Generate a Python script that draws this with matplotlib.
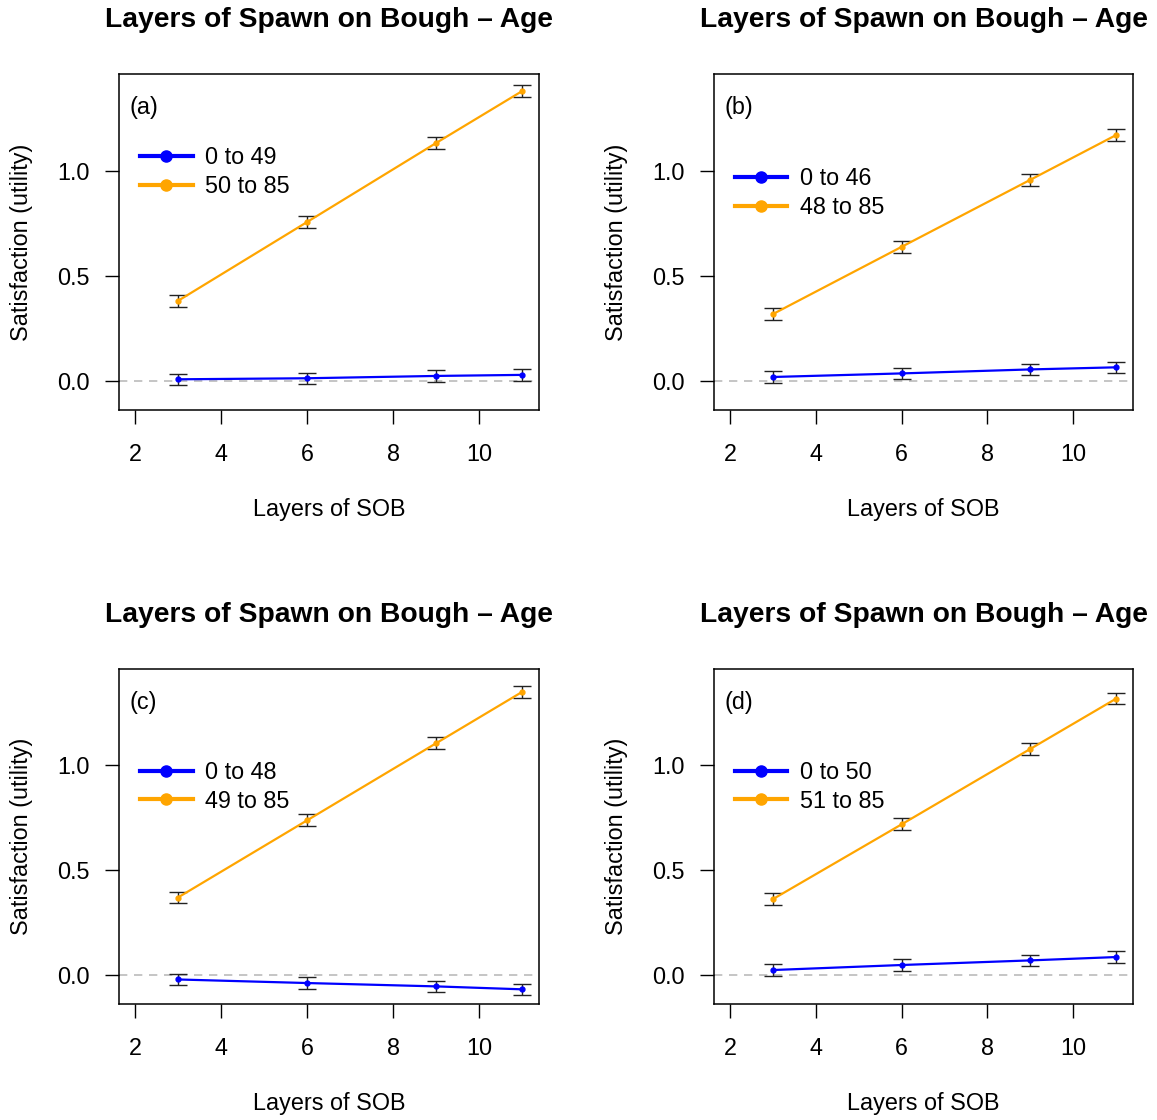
import matplotlib
matplotlib.use("Agg")
import matplotlib.pyplot as plt
from matplotlib.lines import Line2D

plt.rcParams['font.family'] = ['Liberation Sans', 'DejaVu Sans']

layers = [3, 6, 9, 11]
panel_tags = ["(a)", "(b)", "(c)", "(d)"]
young_labels = ["0 to 49", "0 to 46", "0 to 48", "0 to 50"]
old_labels = ["50 to 85", "48 to 85", "49 to 85", "51 to 85"]

young_a = [0.008, 0.013, 0.024, 0.029]
old_a = [0.381, 0.756, 1.132, 1.379]
young_b = [0.019, 0.036, 0.055, 0.065]
old_b = [0.318, 0.638, 0.957, 1.170]
young_c = [-0.021, -0.038, -0.054, -0.068]
old_c = [0.370, 0.738, 1.106, 1.351]
young_d = [0.024, 0.048, 0.070, 0.086]
old_d = [0.362, 0.719, 1.079, 1.319]

young_err = [0.027, 0.027, 0.027, 0.027]
old_err = [0.028, 0.028, 0.028, 0.028]

xticks = [2, 4, 6, 8, 10]
yticks = [0.0, 0.5, 1.0]
ytick_labels = ["0.0", "0.5", "1.0"]
title = "Layers of Spawn on Bough \u2013 Age"
xlabel = "Layers of SOB"
ylabel = "Satisfaction (utility)"

young_all = [young_a, young_b, young_c, young_d]
old_all = [old_a, old_b, old_c, old_d]

BLUE = "#0000FF"
ORANGE = "#FFA500"

W, H = 1157, 1120
fig = plt.figure(figsize=(W / 100, H / 100), dpi=100)

# axes rectangles in pixels: (left, top, right, bottom)
rects = [(119, 74, 539, 410), (714, 74, 1133, 410),
         (119, 669, 539, 1004), (714, 669, 1133, 1004)]
legend_centers = [0.708, 0.646, 0.649, 0.649]

for i in range(4):
    l, t, r, b = rects[i]
    ax = fig.add_axes([l / W, 1 - b / H, (r - l) / W, (b - t) / H])
    ax.axhline(0, color="#BBBBBB", lw=1.2, ls=(0, (5, 4)), zorder=1)
    ax.plot(layers, old_all[i], color=ORANGE, lw=1.6, marker="o", ms=3.5, zorder=3)
    ax.errorbar(layers, old_all[i], yerr=old_err, fmt="none", ecolor="#222222",
                elinewidth=1.0, capsize=6.5, capthick=1.0, zorder=2)
    ax.plot(layers, young_all[i], color=BLUE, lw=1.6, marker="o", ms=3.5, zorder=3)
    ax.errorbar(layers, young_all[i], yerr=young_err, fmt="none", ecolor="#222222",
                elinewidth=1.0, capsize=6.5, capthick=1.0, zorder=2)

    ax.set_xlim(1.63, 11.39)
    ax.set_ylim(-0.138, 1.46)
    ax.set_xticks(xticks)
    ax.set_yticks(yticks)
    ax.set_yticklabels(ytick_labels)
    ax.tick_params(axis="both", direction="out", length=10, width=1.0,
                   labelsize=16.8, color="black")
    ax.tick_params(axis="x", pad=14)
    ax.tick_params(axis="y", pad=11)
    for s in ax.spines.values():
        s.set_linewidth(1.1)

    ax.set_title(title, fontsize=20.3, fontweight="bold", pad=34)
    ax.set_xlabel(xlabel, fontsize=16.8)
    ax.xaxis.set_label_coords(0.5, -0.262)
    ax.xaxis.label.set_va("top")
    ax.set_ylabel(ylabel, fontsize=16.8)
    ax.yaxis.set_label_coords(-0.205, 0.5)

    ax.text(0.026, 0.90, panel_tags[i], transform=ax.transAxes, fontsize=16.8,
            ha="left", va="center")

    handles = [Line2D([], [], color=BLUE, lw=3, marker="o", ms=8),
               Line2D([], [], color=ORANGE, lw=3, marker="o", ms=8)]
    ax.legend(handles, [young_labels[i], old_labels[i]], loc="center left",
              bbox_to_anchor=(0.05, legend_centers[i]), frameon=False,
              fontsize=16.8, handlelength=2.25, handletextpad=0.55,
              borderpad=0, borderaxespad=0, labelspacing=0.25)

fig.savefig("out.png", dpi=100)
